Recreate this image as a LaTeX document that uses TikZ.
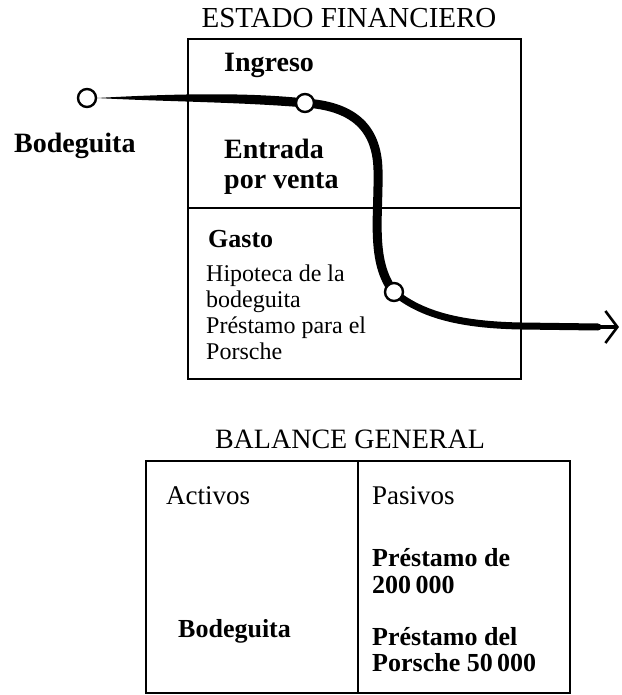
\documentclass[tikz,border=0pt]{standalone}
\usepackage{fontspec}
\setmainfont{Liberation Serif}
\usetikzlibrary{arrows.meta}
\begin{document}
\begin{tikzpicture}[x=1pt,y=-1pt,
  lbl/.style={anchor=base west, inner sep=0pt, font=\fontsize{24}{26}\selectfont},
  lblb/.style={anchor=base west, inner sep=0pt, font=\fontsize{27}{30}\selectfont},
  blbl/.style={anchor=base west, inner sep=0pt, font=\fontsize{28}{30}\selectfont\bfseries},
  blbls/.style={anchor=base west, inner sep=0pt, font=\fontsize{26}{30}\selectfont\bfseries},
  ttl/.style={anchor=base, inner sep=0pt, font=\fontsize{29}{30}\selectfont},
  ttlb/.style={anchor=base, inner sep=0pt, font=\fontsize{28}{30}\selectfont},
  frame/.style={draw=black, line width=1.6pt},
  dot/.style={circle, draw=black, fill=white, line width=2.4pt, minimum size=18pt, inner sep=0pt},
  brush/.style={draw=black, line cap=round}]
\useasboundingbox (0,0) rectangle (621,695);

% --- Estado financiero ---
\node[ttl] (t1) at (349,27.5) {ESTADO FINANCIERO};
\draw[frame] (188,39) rectangle (521,379);
\draw[frame] (188,208) -- (521,208);

\node[blbl] (ing) at (224,72) {Ingreso};
\node[blbl] (bod1) at (14,153) {Bodeguita};
\node[blbl] (ent1) at (224,158) {Entrada};
\node[blbl] (ent2) at (224,188) {por venta};
\node[blbls] (gas) at (208,247) {Gasto};
\node[lbl] (g1) at (206,281) {Hipoteca de la};
\node[lbl] (g2) at (206,307) {bodeguita};
\node[lbl] (g3) at (206,333) {Préstamo para el};
\node[lbl] (g4) at (206,359) {Porsche};

% --- flow stroke ---
\coordinate (c1p) at (87,98);
\coordinate (c2p) at (305,103);
\coordinate (c3p) at (394,292);
\coordinate (tip) at (619,327);

\fill[black] ([xshift=10pt]c1p) .. controls (160,94.5) and (240,91.5) .. ([yshift=4.5pt]c2p)
   -- ([yshift=-4.5pt]c2p) .. controls (240,102) and (160,101.5) .. ([xshift=10pt]c1p) -- cycle;
\draw[brush, line width=9pt] (c2p) .. controls (350,106) and (377,125) .. (378,170)
   .. controls (379,215) and (370,262) .. (c3p);
\draw[brush, line width=7pt] (c3p) .. controls (425,318) and (470,325) .. (521,326) -- (598,327);
\draw[brush, line width=3.5pt, -{Straight Barb[line width=2.6pt,length=12pt,width=32pt]}] (590,327) -- (tip);

\node[dot] (c1) at (c1p) {};
\node[dot] (c2) at (c2p) {};
\node[dot] (c3) at (c3p) {};

% --- Balance general ---
\node[ttlb] (t2) at (350,448) {BALANCE GENERAL};
\draw[frame] (146,461) rectangle (570,693);
\draw[frame] (358,461) -- (358,693);

\node[lblb] (act) at (166,504) {Activos};
\node[lblb] (pas) at (372,504) {Pasivos};
\node[blbls] (p1) at (372,566) {Préstamo de};
\node[blbls] (p2) at (372,593) {200\,000};
\node[blbls] (bod2) at (178,637) {Bodeguita};
\node[blbls] (p3) at (372,645) {Préstamo del};
\node[blbls] (p4) at (372,671) {Porsche 50\,000};
\end{tikzpicture}
\end{document}
